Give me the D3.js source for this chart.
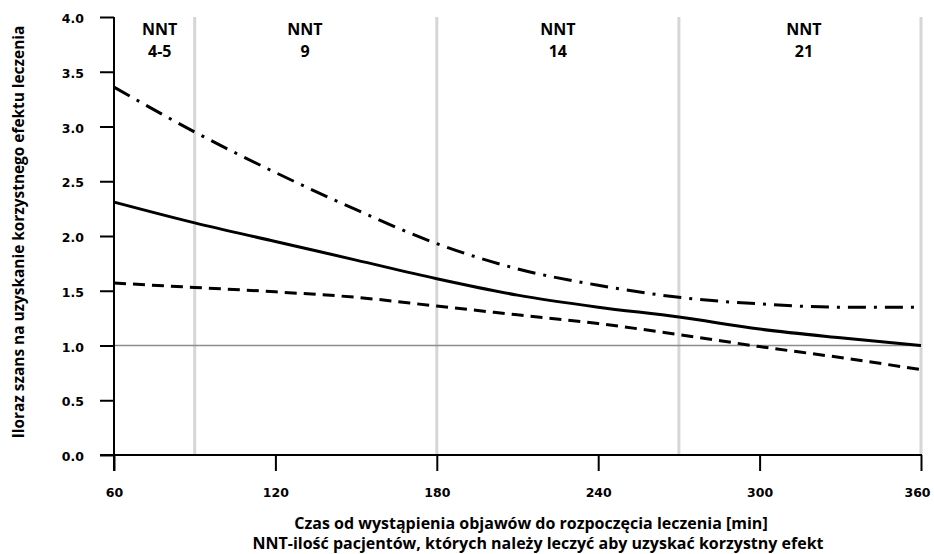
<!DOCTYPE html>
<html>
<head>
<meta charset="utf-8">
<script src="https://cdn.jsdelivr.net/npm/d3@7"></script>
<style>
  body { margin: 0; background: #fff; }
  .tick text { font-family: "DejaVu Sans", Verdana, sans-serif; font-weight: bold; font-size: 12.5px; fill: #000; }
  .ttl { font-family: "Open Sans", sans-serif; font-weight: 700; fill: #000; }
</style>
</head>
<body>
<svg width="934" height="554"></svg>
<script>
// minuty od wystąpienia objawów
var minutes = [60, 90, 120, 150, 180, 210, 240, 270, 300, 330, 360];
// iloraz szans - estymacja i przedział ufności
var orMid   = [2.31, 2.12, 1.95, 1.78, 1.61, 1.46, 1.35, 1.26, 1.15, 1.07, 1.00];
var orLow   = [1.57, 1.53, 1.49, 1.44, 1.36, 1.28, 1.20, 1.10, 0.99, 0.89, 0.78];
var orHigh  = [3.36, 2.95, 2.58, 2.24, 1.93, 1.70, 1.55, 1.44, 1.38, 1.35, 1.35];

var xTicks = [60, 120, 180, 240, 300, 360];
var yTicks = [0, 0.5, 1, 1.5, 2, 2.5, 3, 3.5, 4];
var bandEdges = [90, 180, 270, 360];
var nntLabels = ["4-5", "9", "14", "21"];
var nntAt = [77, 131, 225, 316.5];

var svg = d3.select("svg");

var x = d3.scaleLinear().domain([60, 360]).range([114, 921]),
    y = d3.scaleLinear().domain([0, 4]).range([455, 17]);

// szare pionowe linie granic NNT
svg.append("g").selectAll("line")
    .data(bandEdges)
  .enter().append("line")
    .attr("x1", function(d) { return x(d); })
    .attr("x2", function(d) { return x(d); })
    .attr("y1", y(4))
    .attr("y2", y(0))
    .attr("stroke", "#d6d6d6")
    .attr("stroke-width", 3);

// linia OR = 1
svg.append("line")
    .attr("x1", x(60)).attr("x2", x(360))
    .attr("y1", y(1)).attr("y2", y(1))
    .attr("stroke", "#8c8c8c")
    .attr("stroke-width", 1.5);

var line = d3.line()
    .x(function(d) { return x(d[0]); })
    .y(function(d) { return y(d[1]); })
    .curve(d3.curveMonotoneX);

function series(vals, dash) {
  svg.append("path")
      .datum(minutes.map(function(m, i) { return [m, vals[i]]; }))
      .attr("d", line)
      .attr("fill", "none")
      .attr("stroke", "#000")
      .attr("stroke-width", 3)
      .attr("stroke-dasharray", dash);
}
series(orMid, null);
series(orLow, "12,7");
series(orHigh, "18,8,3,8");

// osie
var yAxis = d3.axisLeft(y).tickValues(yTicks).tickSize(14).tickPadding(16)
    .tickFormat(d3.format(".1f"));
var xAxis = d3.axisBottom(x).tickValues(xTicks).tickSize(16).tickPadding(17);

var gy = svg.append("g").attr("transform", "translate(" + x(60) + ",0)").call(yAxis);
gy.select(".domain").remove();
gy.append("line").attr("x1", 0).attr("x2", 0).attr("y1", y(4)).attr("y2", y(0) + 16)
    .attr("stroke", "#000").attr("stroke-width", 2);
gy.selectAll(".tick line").attr("stroke-width", 2);
gy.selectAll(".tick text").attr("dy", "0.45em");

var gx = svg.append("g").attr("transform", "translate(0," + y(0) + ")").call(xAxis);
gx.select(".domain").remove();
gx.append("line").attr("x1", x(60) - 14).attr("x2", x(360) + 1).attr("y1", 0).attr("y2", 0)
    .attr("stroke", "#000").attr("stroke-width", 2);
gx.selectAll(".tick line").attr("stroke-width", 2);
gx.selectAll(".tick text").filter(function(d) { return d === 360; }).attr("dx", -4);

// etykiety NNT
var nnt = svg.append("g").selectAll("g")
    .data(nntLabels)
  .enter().append("g")
    .attr("transform", function(d, i) { return "translate(" + x(nntAt[i]) + ",0)"; });
nnt.append("text").attr("class", "ttl").attr("y", 35).attr("text-anchor", "middle")
    .style("font-size", "16px").text("NNT");
nnt.append("text").attr("class", "ttl").attr("y", 57).attr("text-anchor", "middle")
    .style("font-size", "16px").text(function(d) { return d; });

// tytuły osi
svg.append("text").attr("class", "ttl")
    .attr("transform", "translate(24,232) rotate(-90)")
    .attr("text-anchor", "middle")
    .style("font-size", "15.4px")
    .text("Iloraz szans na uzyskanie korzystnego efektu leczenia");

svg.append("text").attr("class", "ttl")
    .attr("x", 531).attr("y", 529)
    .attr("text-anchor", "middle")
    .style("font-size", "16px")
    .text("Czas od wystąpienia objawów do rozpoczęcia leczenia [min]");
svg.append("text").attr("class", "ttl")
    .attr("x", 538).attr("y", 549)
    .attr("text-anchor", "middle")
    .style("font-size", "16px")
    .text("NNT-ilość pacjentów, których należy leczyć aby uzyskać korzystny efekt");
</script>
</body>
</html>
